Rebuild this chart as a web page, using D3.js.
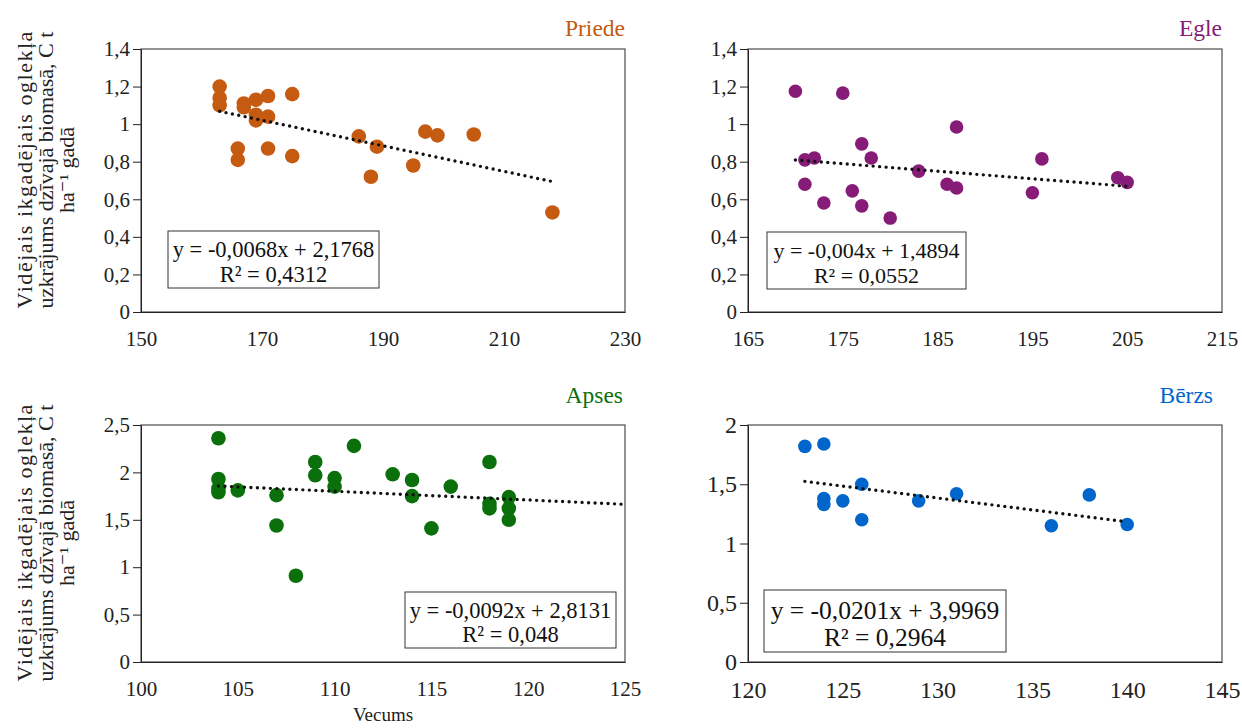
<!DOCTYPE html>
<html>
<head>
<meta charset="utf-8">
<script src="https://cdn.jsdelivr.net/npm/d3@7"></script>
<style>
  body { margin: 0; background: #fff; }
  svg { display: block; }
  svg text { font-family: "Liberation Serif", "Times New Roman", Tinos, "DejaVu Serif", serif; }
</style>
</head>
<body>
<div id="chart"></div>
<script>
// --- data ---
const priedeAge = [163, 163, 163, 167, 167, 169, 169, 169, 171, 171, 171, 166, 166, 175, 175, 186, 189, 188, 195, 197, 199, 205, 218];
const priedeC   = [1.20, 1.14, 1.10, 1.11, 1.09, 1.13, 1.05, 1.02, 1.15, 1.04, 0.87, 0.87, 0.81, 1.16, 0.83, 0.935, 0.88, 0.72, 0.78, 0.96, 0.94, 0.945, 0.53];

const egleAge = [170, 175, 171, 172, 171, 173, 176, 177, 177, 178, 180, 183, 187, 186, 187, 195, 196, 204, 205];
const egleC   = [1.175, 1.165, 0.81, 0.82, 0.68, 0.58, 0.645, 0.895, 0.565, 0.82, 0.50, 0.75, 0.985, 0.68, 0.66, 0.635, 0.815, 0.715, 0.69];

const apsesAge = [104, 104, 104, 104, 105, 107, 107, 108, 109, 109, 110, 110, 111, 113, 114, 114, 115, 116, 118, 118, 118, 119, 119, 119];
const apsesC   = [2.36, 1.93, 1.83, 1.79, 1.81, 1.76, 1.44, 0.91, 2.11, 1.97, 1.94, 1.85, 2.28, 1.98, 1.92, 1.75, 1.41, 1.85, 2.11, 1.67, 1.62, 1.74, 1.62, 1.50];

const berzsAge = [123, 124, 124, 124, 125, 126, 126, 129, 131, 136, 138, 140];
const berzsC   = [1.82, 1.84, 1.38, 1.33, 1.36, 1.50, 1.20, 1.36, 1.42, 1.15, 1.41, 1.16];

const priedeXTicks = [150, 170, 190, 210, 230];
const egleXTicks   = [165, 175, 185, 195, 205, 215];
const apsesXTicks  = [100, 105, 110, 115, 120, 125];
const berzsXTicks  = [120, 125, 130, 135, 140, 145];
const topYTicks    = [0, 0.2, 0.4, 0.6, 0.8, 1, 1.2, 1.4];
const apsesYTicks  = [0, 0.5, 1, 1.5, 2, 2.5];
const berzsYTicks  = [0, 0.5, 1, 1.5, 2];

// trend line coefficients (slope, intercept, R²) and x range
const priedeTrend = [-0.0068, 2.1768, '0,4312', 163, 218];
const egleTrend   = [-0.004, 1.4894, '0,0552', 170, 205];
const apsesTrend  = [-0.0092, 2.8131, '0,048', 104, 125];
const berzsTrend  = [-0.0201, 3.9969, '0,2964', 123, 140];

const W = 1242, H = 728;
const FONT = '"Liberation Serif", "Times New Roman", Tinos, "DejaVu Serif", serif';
const svg = d3.select('#chart').append('svg').attr('width', W).attr('height', H);

const comma = v => String(v).replace('.', ',');

const panels = [
  { name: 'Priede', color: '#C55A11', xs: priedeAge, ys: priedeC, xt: priedeXTicks, yt: topYTicks, tr: priedeTrend,
    left: 141, right: 625, top: 49, bottom: 312, r: 7.3, fs: 21, efs: 22.5,
    title: [625, 36], box: [168, 231, 211, 57] },
  { name: 'Egle', color: '#861C78', xs: egleAge, ys: egleC, xt: egleXTicks, yt: topYTicks, tr: egleTrend,
    left: 748, right: 1222, top: 49, bottom: 312, r: 6.8, fs: 21, efs: 22,
    title: [1222, 36], box: [767, 232, 199, 57] },
  { name: 'Apses', color: '#0B700B', xs: apsesAge, ys: apsesC, xt: apsesXTicks, yt: apsesYTicks, tr: apsesTrend,
    left: 141, right: 625, top: 425, bottom: 662, r: 7.3, fs: 21, efs: 22.5,
    title: [623, 403], box: [405, 592, 211, 56] },
  { name: 'Bērzs', color: '#0066CC', xs: berzsAge, ys: berzsC, xt: berzsXTicks, yt: berzsYTicks, tr: berzsTrend,
    left: 748, right: 1222, top: 425, bottom: 662, r: 6.8, fs: 24, efs: 25.5,
    title: [1213, 403], box: [764, 590, 242, 62] }
];

panels.forEach(p => {
  const x = d3.scaleLinear().domain([p.xt[0], p.xt[p.xt.length - 1]]).range([p.left, p.right]);
  const y = d3.scaleLinear().domain([0, p.yt[p.yt.length - 1]]).range([p.bottom, p.top]);
  const g = svg.append('g');

  // frame
  g.append('rect')
    .attr('x', p.left).attr('y', p.top)
    .attr('width', p.right - p.left).attr('height', p.bottom - p.top)
    .attr('fill', 'none').attr('stroke', '#595959').attr('stroke-width', 1.3);

  // Y axis
  const ya = g.append('g')
    .attr('transform', `translate(${p.left},0)`)
    .call(d3.axisLeft(y).tickValues(p.yt).tickFormat(comma).tickSizeInner(8).tickSizeOuter(0).tickPadding(3));
  ya.attr('font-family', null);
  ya.select('.domain').attr('stroke', '#222');
  ya.selectAll('line').attr('stroke', '#222');
  ya.selectAll('text').attr('font-size', p.fs).style('font-family', FONT).attr('fill', '#222');

  // X axis
  const xa = g.append('g')
    .attr('transform', `translate(0,${p.bottom})`)
    .call(d3.axisBottom(x).tickValues(p.xt).tickSize(0).tickPadding(19));
  xa.attr('font-family', null);
  xa.select('.domain').attr('stroke', '#222');
  xa.selectAll('text').attr('font-size', p.fs).style('font-family', FONT).attr('fill', '#222');

  // points
  g.selectAll('.dot')
    .data(p.xs.map((v, i) => [v, p.ys[i]]))
    .enter()
    .append('circle')
    .attr('cx', d => x(d[0]))
    .attr('cy', d => y(d[1]))
    .attr('r', p.r)
    .attr('fill', p.color);

  // trend line (dotted)
  const [a, b, r2, x0, x1] = p.tr;
  g.append('line')
    .attr('x1', x(x0)).attr('y1', y(a * x0 + b))
    .attr('x2', x(x1)).attr('y2', y(a * x1 + b))
    .attr('stroke', '#111').attr('stroke-width', 3.4)
    .attr('stroke-linecap', 'round').attr('stroke-dasharray', '0,6.5');

  // equation box
  const [bx, by, bw, bh] = p.box;
  g.append('rect')
    .attr('x', bx).attr('y', by).attr('width', bw).attr('height', bh)
    .attr('fill', '#fff').attr('stroke', '#333').attr('stroke-width', 1);
  const eq = `y = ${comma(a)}x + ${comma(b)}`;
  g.append('text')
    .attr('x', bx + bw / 2).attr('y', by + bh * 0.46)
    .attr('text-anchor', 'middle').attr('font-size', p.efs).attr('fill', '#111')
    .style('font-family', FONT)
    .text(eq);
  g.append('text')
    .attr('x', bx + bw / 2).attr('y', by + bh * 0.9)
    .attr('text-anchor', 'middle').attr('font-size', p.efs).attr('fill', '#111')
    .style('font-family', FONT)
    .text(`R² = ${r2}`);

  // title
  g.append('text')
    .attr('x', p.title[0]).attr('y', p.title[1])
    .attr('text-anchor', 'end').attr('font-size', 23.5).attr('fill', p.color)
    .style('font-family', FONT)
    .text(p.name);
});

// Y-axis labels (left column), first line justified to the second
const yLabel = ['Vidējais ikgadējais oglekļa', 'uzkrājums dzīvajā biomasā, C t', 'ha⁻¹ gadā'];
[170, 543].forEach(cy => {
  const t = svg.append('text')
    .attr('transform', `translate(0,${cy}) rotate(-90)`)
    .attr('text-anchor', 'middle').attr('font-size', 22).attr('fill', '#222')
    .style('font-family', FONT);
  const spans = yLabel.map((s, i) =>
    t.append('tspan').attr('x', 0).attr('y', 32 + i * 21).text(s));
  const full = spans[1].node().getComputedTextLength();
  spans[0].attr('textLength', full).attr('lengthAdjust', 'spacing');
});

// X-axis title
svg.append('text')
  .attr('x', 383).attr('y', 721)
  .attr('text-anchor', 'middle').attr('font-size', 19).attr('fill', '#222')
  .style('font-family', FONT)
  .text('Vecums');
</script>
</body>
</html>
